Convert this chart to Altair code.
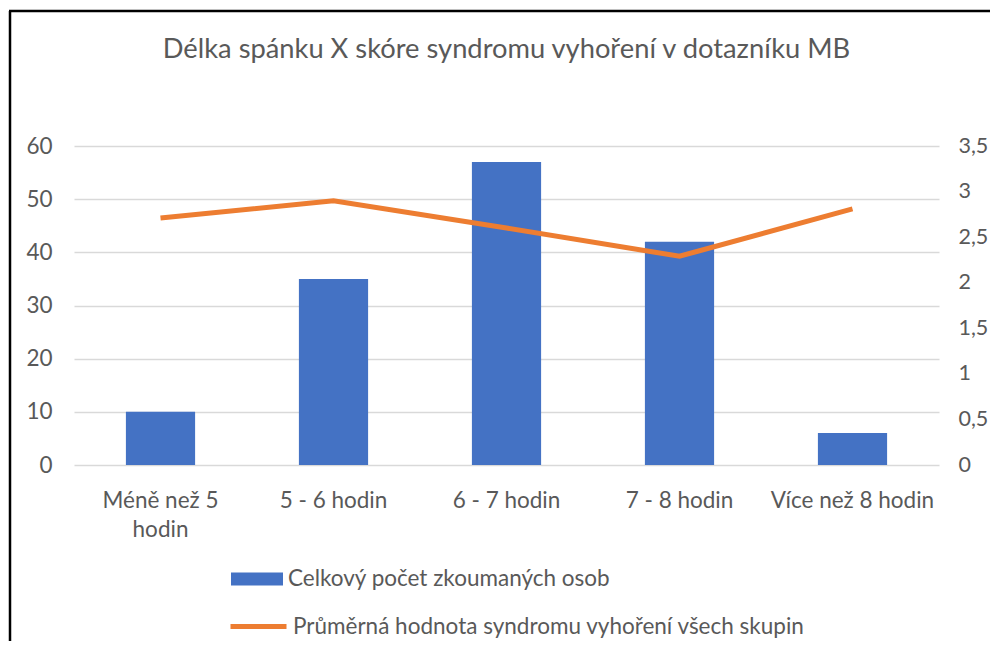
import altair as alt
import pandas as pd

categories = ["Méně než 5 hodin", "5 - 6 hodin", "6 - 7  hodin", "7 - 8  hodin", "Více než 8 hodin"]
counts = [10, 35, 57, 42, 6]
scores = [2.71, 2.90, 2.60, 2.29, 2.81]
left_ticks = [0, 10, 20, 30, 40, 50, 60]
right_ticks = [0, 0.5, 1, 1.5, 2, 2.5, 3, 3.5]

bar_name = "Celkový počet zkoumaných osob"
line_name = "Průměrná hodnota syndromu vyhoření všech skupin"
title_text = "Délka spánku X skóre syndromu vyhoření v dotazníku MB"

df = pd.DataFrame({"kat": categories, "pocet": counts, "skore": scores,
                   "s1": bar_name, "s2": line_name})

FONT = "Lato"
GREY = "#595959"
BLUE = "#4472C4"
ORANGE = "#ED7D31"
FS = 22.5

W, H = 865, 319
PAD = {"left": 66, "top": 138, "right": 51, "bottom": 176}

x = alt.X("kat:N", sort=categories, title=None,
          scale=alt.Scale(paddingInner=0.6, paddingOuter=0.3),
          axis=alt.Axis(labelAngle=0, ticks=False, domain=False,
                        labelExpr="datum.value == 'Méně než 5 hodin' ? ['Méně než 5', 'hodin'] : datum.value",
                        labelFontSize=FS, labelColor=GREY, labelFont=FONT, labelLimit=0,
                        labelPadding=24, labelLineHeight=29, labelBaseline="top"))

bars = alt.Chart(df).mark_bar().encode(
    x=x,
    y=alt.Y("pocet:Q", title=None, scale=alt.Scale(domain=[0, 60], nice=False),
            axis=alt.Axis(orient="left", values=left_ticks, ticks=False, domain=False,
                          grid=True, gridColor="#D9D9D9", gridWidth=1.3,
                          labelFontSize=FS, labelColor=GREY, labelFont=FONT, labelPadding=22)),
    fill=alt.Fill("s1:N", scale=alt.Scale(domain=[bar_name], range=[BLUE]),
                  legend=alt.Legend(title=None, orient="none", legendX=157, legendY=407,
                                    symbolType="M-1,-0.25H1V0.25H-1Z", symbolSize=2704,
                                    symbolStrokeWidth=0, labelOffset=5, padding=0, labelLimit=0,
                                    labelFontSize=FS, labelColor=GREY, labelFont=FONT)),
)

line = alt.Chart(df).mark_line(strokeWidth=5).encode(
    x=x,
    y=alt.Y("skore:Q", title=None, scale=alt.Scale(domain=[0, 3.5], nice=False),
            axis=alt.Axis(orient="right", values=right_ticks, ticks=False, domain=False,
                          grid=False, format="~g", labelExpr="replace(datum.label, '.', ',')",
                          labelFontSize=21.5, labelColor=GREY, labelFont=FONT, labelPadding=19)),
    stroke=alt.Stroke("s2:N", scale=alt.Scale(domain=[line_name], range=[ORANGE]),
                      legend=alt.Legend(title=None, orient="none", legendX=154, legendY=450,
                                        symbolType="stroke", symbolSize=3136,
                                        symbolStrokeWidth=5, labelOffset=4, padding=0, labelLimit=0,
                                        labelFontSize=FS, labelColor=GREY, labelFont=FONT)),
)

frame_df = pd.DataFrame({"a": [0]})
left_border = alt.Chart(frame_df).mark_rule(color="black", strokeWidth=2.5).encode(
    x=alt.value(-64), y=alt.value(-135), y2=alt.value(H + PAD["bottom"]))
top_border = alt.Chart(frame_df).mark_rule(color="black", strokeWidth=2.5).encode(
    x=alt.value(-65), x2=alt.value(W + PAD["right"]), y=alt.value(-135))

chart = alt.layer(bars, line, left_border, top_border).resolve_scale(
    y="independent", fill="independent", stroke="independent"
).properties(
    width=W, height=H,
    autosize=alt.AutoSizeParams(type="none"),
    padding=PAD,
    title=alt.TitleParams(title_text, fontSize=27.3, font=FONT, color=GREY,
                          fontWeight="normal", anchor="middle", offset=0, dy=54),
).configure_view(stroke=None)

chart.save("out.html", embed_options={"renderer": "svg", "actions": False})
